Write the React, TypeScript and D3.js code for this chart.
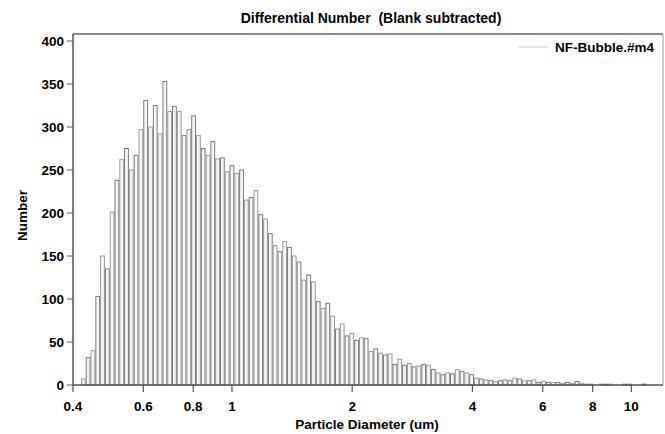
import React from "react";
import * as d3 from "d3";

// bin edges (um), log spaced, as exported by the counter
const binEdges = [
  0.4188, 0.4305, 0.4426, 0.455, 0.4677, 0.4808, 0.4943, 0.5081, 0.5224, 0.537, 0.5521,
  0.5675, 0.5834, 0.5998, 0.6166, 0.6339, 0.6516, 0.6699, 0.6887, 0.708, 0.7278,
  0.7482, 0.7692, 0.7907, 0.8129, 0.8357, 0.8591, 0.8831, 0.9078, 0.9333, 0.9594,
  0.9863, 1.0139, 1.0423, 1.0715, 1.1015, 1.1324, 1.1641, 1.1967, 1.2303, 1.2647,
  1.3002, 1.3366, 1.374, 1.4125, 1.4521, 1.4928, 1.5346, 1.5776, 1.6218, 1.6672,
  1.714, 1.762, 1.8113, 1.8621, 1.9143, 1.9679, 2.023, 2.0797, 2.138, 2.1979,
  2.2594, 2.3227, 2.3878, 2.4547, 2.5235, 2.5942, 2.6669, 2.7416, 2.8184, 2.8973,
  2.9785, 3.062, 3.1477, 3.2359, 3.3266, 3.4198, 3.5156, 3.6141, 3.7154, 3.8194,
  3.9264, 4.0365, 4.1495, 4.2658, 4.3853, 4.5082, 4.6345, 4.7643, 4.8978, 5.035,
  5.1761, 5.3211, 5.4702, 5.6234, 5.781, 5.9429, 6.1094, 6.2806, 6.4565, 6.6374,
  6.8234, 7.0146, 7.2111, 7.4131, 7.6208, 7.8343, 8.0538, 8.2794, 8.5114, 8.7498,
  8.995, 9.247, 9.506, 9.7724, 10.046, 10.328, 10.617, 10.914, 11.22, 11.535,
];

// number of particles per bin
const counts = [
  7, 32, 40, 103, 150, 135, 201, 238, 262, 275,
  250, 267, 297, 331, 300, 325, 292, 353, 318, 324,
  318, 290, 297, 313, 290, 275, 267, 283, 263, 264,
  248, 255, 246, 250, 215, 218, 226, 198, 193, 176,
  162, 155, 167, 160, 150, 143, 122, 128, 120, 97,
  89, 95, 80, 65, 71, 57, 60, 52, 55, 54,
  39, 42, 37, 35, 36, 24, 30, 23, 25, 21,
  22, 24, 23, 18, 14, 12, 14, 13, 18, 16,
  14, 12, 8, 7, 6, 5, 4, 5, 6, 5,
  8, 7, 5, 5, 6, 3, 4, 3, 3, 3,
  2, 3, 2, 4, 2, 1, 1, 0, 1, 1,
  1, 0, 0, 1, 1, 0, 0, 1, 0, 0,
];

const xTicks = [0.4, 0.6, 0.8, 1, 2, 4, 6, 8, 10];
const yTicks = [0, 50, 100, 150, 200, 250, 300, 350, 400];
const seriesName = "NF-Bubble.#m4";

const W = 665;
const H = 434;
const font = "'Liberation Sans', Arial, sans-serif";

export default function App() {
  const left = 73, right = 663, top = 34, bottom = 385;

  const x = d3.scaleLog().domain([0.4, 12]).range([left, right]);
  const y = d3.scaleLinear().domain([0, 400]).range([bottom, 41]);

  const bins = counts.map((c, i) => ({ x0: binEdges[i], x1: binEdges[i + 1], c }));

  return (
    <svg width={W} height={H} style={{ position: "absolute", left: 0, top: 0, background: "#fff" }}>
      <text x={371} y={23} textAnchor="middle" fontFamily={font} fontWeight="bold" fontSize={14} style={{ whiteSpace: "pre" }}>
        {"Differential Number  (Blank subtracted)"}
      </text>

      {/* bars */}
      <g>
        {bins.map((b, i) =>
          b.c > 0 ? (
            <rect
              key={i}
              x={x(b.x0) + 0.5}
              y={y(b.c)}
              width={Math.max(x(b.x1) - x(b.x0) - 1, 0.5)}
              height={bottom - y(b.c)}
              fill="#f6f6f6"
              stroke={i % 2 ? "#7a7a7a" : "#9a9a9a"}
              strokeWidth={1}
            />
          ) : null
        )}
      </g>

      {/* frame */}
      <line x1={left} x2={right} y1={top} y2={top} stroke="#8c8c8c" strokeWidth={2} />
      <line x1={right} x2={right} y1={top} y2={bottom} stroke="#9a9a9a" strokeWidth={1} />
      <line x1={left} x2={left} y1={top} y2={bottom} stroke="#555" strokeWidth={1.5} />
      <line x1={left} x2={right} y1={bottom} y2={bottom} stroke="#555" strokeWidth={1.5} />

      {/* y axis */}
      {yTicks.map((t) => (
        <g key={t}>
          <line x1={left - 6} x2={left} y1={y(t)} y2={y(t)} stroke="#555" strokeWidth={1} />
          <text x={left - 9} y={y(t) + 5} textAnchor="end" fontFamily={font} fontWeight="bold" fontSize={13.5}>
            {t}
          </text>
        </g>
      ))}
      <text
        transform={`translate(27,${(top + bottom) / 2 + 6}) rotate(-90)`}
        textAnchor="middle"
        fontFamily={font}
        fontWeight="bold"
        fontSize={13.5}
      >
        Number
      </text>

      {/* x axis */}
      {xTicks.map((t) => (
        <g key={t}>
          <line x1={x(t)} x2={x(t)} y1={bottom} y2={bottom + 7} stroke="#555" strokeWidth={1.2} />
          <text x={x(t)} y={bottom + 26} textAnchor="middle" fontFamily={font} fontWeight="bold" fontSize={13.5}>
            {t}
          </text>
        </g>
      ))}
      <text x={367} y={429} textAnchor="middle" fontFamily={font} fontWeight="bold" fontSize={13.5}>
        Particle Diameter (um)
      </text>

      {/* legend */}
      <line x1={519} x2={548} y1={47} y2={47} stroke="#c8c8c8" strokeWidth={1} />
      <text x={555} y={52} fontFamily={font} fontWeight="bold" fontSize={13.5}>
        {seriesName}
      </text>
    </svg>
  );
}
